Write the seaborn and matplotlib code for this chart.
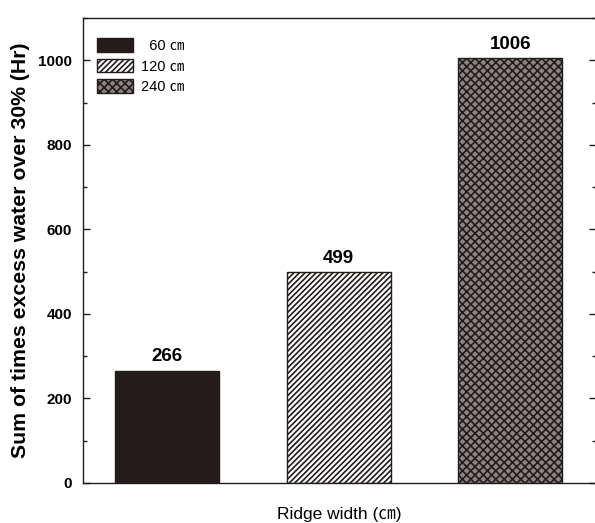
import matplotlib
matplotlib.use("Agg")
import matplotlib.pyplot as plt
from matplotlib.ticker import MultipleLocator
import seaborn as sns
import pandas as pd

# Ridge width treatments and accumulated hours of excess soil water (>30%)
ridge_widths = ["60 ㎝", "120 ㎝", "240 ㎝"]
legend_labels = ["  60 ㎝", "120 ㎝", "240 ㎝"]
hours = [266, 499, 1006]

face_colors = ["#231c1a", "#ffffff", "#8a8584"]
hatches = [None, "//////", "xxxx"]

sns.set_theme(style="white")
plt.rcParams["font.family"] = ["Liberation Sans", "Noto Sans CJK KR", "DejaVu Sans"]
plt.rcParams["hatch.color"] = "#231c1a"
plt.rcParams["hatch.linewidth"] = 1.2
for key in ["text.color", "axes.labelcolor", "xtick.color", "ytick.color"]:
    plt.rcParams[key] = "black"

df = pd.DataFrame({"width": ridge_widths, "hours": hours})

fig = plt.figure(figsize=(5.95, 5.23), dpi=100)
ax = fig.add_axes([0.1395, 0.0765, 0.8622, 0.8891])

sns.barplot(data=df, x="width", y="hours", hue="width", palette=face_colors,
            width=0.605, dodge=False, legend=False, ax=ax,
            edgecolor="#231c1a", linewidth=1.0, saturation=1)

for patch, h in zip(ax.patches, hatches):
    if h:
        patch.set_hatch(h)

narrow = ["Liberation Sans Narrow", "Liberation Sans"]
for patch, v in zip(ax.patches, hours):
    ax.text(patch.get_x() + patch.get_width() / 2, v + 12, f"{v}",
            ha="center", va="bottom", fontsize=13.5, fontweight="bold",
            family=narrow)

ax.set_xlim(-0.49, 2.5)
ax.set_ylim(0, 1100)
ax.yaxis.set_major_locator(MultipleLocator(200))
ax.yaxis.set_minor_locator(MultipleLocator(100))
ax.set_xticks([])
ax.set_yticks([0, 200, 400, 600, 800, 1000])
ax.set_yticklabels(["0", "200", "400", "600", "800", "1000"],
                   fontweight="bold", fontsize=11, family=narrow)
ax.tick_params(axis="y", which="major", direction="in", length=5, width=1,
               color="#231c1a", left=True, right=True, pad=8)
ax.tick_params(axis="y", which="minor", direction="in", length=3, width=1,
               color="#231c1a", left=True, right=True)

for s in ax.spines.values():
    s.set_color("#231c1a")
    s.set_linewidth(1.0)

ax.set_ylabel("Sum of times excess water over 30% (Hr)", fontsize=15.3,
              fontweight="bold", labelpad=5.5)
ax.set_xlabel("Ridge width (㎝)", fontsize=12.5, labelpad=17)

leg = ax.legend(handles=list(ax.patches), labels=legend_labels, loc="upper left",
                frameon=False, fontsize=10.5, handlelength=2.45, handleheight=1.05,
                handletextpad=0.55, labelspacing=0.4,
                bbox_to_anchor=(0.002, 0.985))

fig.savefig("out.png", dpi=100)
